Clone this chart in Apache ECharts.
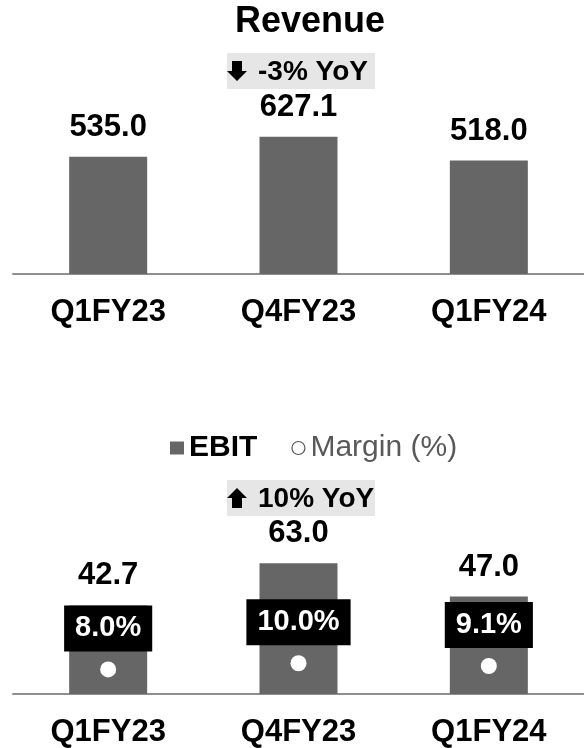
<!DOCTYPE html>
<html>
<head>
<meta charset="utf-8">
<title>Revenue / EBIT</title>
<script src="https://cdn.jsdelivr.net/npm/echarts@6/dist/echarts.min.js"></script>
<style>
  html,body{margin:0;padding:0;background:#fff;}
  #chart{width:584px;height:748px;}
</style>
</head>
<body>
<div id="chart"></div>
<script>
// data
const quarters = ['Q1FY23', 'Q4FY23', 'Q1FY24']
const revenue = [535.0, 627.1, 518.0]
const ebit = [42.7, 63.0, 47.0]
const margin = [8.0, 10.0, 9.1]
const revenueYoY = '-3% YoY'
const ebitYoY = '10% YoY'

const font = 'Liberation Sans, Arial, sans-serif'
const barColor = '#666666'
const axisColor = '#8f8f8f'

const myChart = echarts.init(document.getElementById('chart'))

// x axis shared style
function xAxisFor(gridIndex){
  return {
    type: 'category',
    gridIndex: gridIndex,
    data: quarters,
    axisTick: {show: false},
    axisLine: {lineStyle: {color: axisColor, width: 2}},
    axisLabel: {
      margin: 23,
      color: '#000',
      fontFamily: font,
      fontWeight: 'bold',
      fontSize: 31
    }
  }
}

const valueLabel = {
  show: true,
  position: 'top',
  distance: 14,
  color: '#000',
  fontFamily: font,
  fontWeight: 'bold',
  fontSize: 31,
  formatter: p => p.value.toFixed(1)
}

// little arrow + grey box above middle bar
function yoyBadge(y, up, text){
  const arrow = up
    ? [[237, y + 8], [247, y + 18], [242, y + 18], [242, y + 28], [232, y + 28], [232, y + 18], [227, y + 18]]
    : [[232, y + 8], [242, y + 8], [242, y + 18], [247, y + 18], [237, y + 28], [227, y + 18], [232, y + 18]]
  return [
    {type: 'rect', shape: {x: 227, y: y, width: 148, height: 36}, style: {fill: '#e6e6e6'}},
    {type: 'polygon', shape: {points: arrow}, style: {fill: '#000'}},
    {type: 'text', x: 258, y: y + 19, style: {
      text: text, fill: '#000', font: 'bold 28px ' + font, verticalAlign: 'middle'
    }}
  ]
}

const option = {
  animation: false,
  title: {
    text: 'Revenue',
    left: 235,
    top: 4,
    padding: 0,
    textStyle: {fontFamily: font, fontWeight: 'bold', fontSize: 36, color: '#000'}
  },
  legend: {
    left: 170,
    top: 433,
    padding: 0,
    itemWidth: 14,
    itemHeight: 13,
    itemGap: 34,
    textStyle: {fontFamily: font, fontSize: 30},
    data: [
      {name: 'EBIT', icon: 'rect', textStyle: {fontWeight: 'bold', color: '#000'}},
      {name: 'Margin (%)', icon: 'circle',
        itemStyle: {color: '#fff', borderColor: '#595959', borderWidth: 1.2, opacity: 1},
        textStyle: {fontWeight: 'normal', color: '#595959'}}
    ]
  },
  grid: [
    {left: 13, width: 588, top: 55, height: 219},
    {left: 13, width: 588, top: 528, height: 168}
  ],
  xAxis: [xAxisFor(0), xAxisFor(1)],
  yAxis: [
    {type: 'value', gridIndex: 0, min: 0, max: 1000, show: false, splitLine: {show: false}},
    {type: 'value', gridIndex: 1, min: 0, max: 80, show: false, splitLine: {show: false}},
    {type: 'value', gridIndex: 1, min: 0, max: 54, show: false, splitLine: {show: false}}
  ],
  series: [
    {
      name: 'Revenue',
      type: 'bar',
      xAxisIndex: 0,
      yAxisIndex: 0,
      barWidth: 78,
      data: revenue,
      itemStyle: {color: barColor},
      label: valueLabel
    },
    {
      name: 'EBIT',
      type: 'bar',
      xAxisIndex: 1,
      yAxisIndex: 1,
      barWidth: 78,
      data: ebit,
      itemStyle: {color: barColor},
      label: valueLabel
    },
    {
      name: 'Margin (%)',
      type: 'scatter',
      xAxisIndex: 1,
      yAxisIndex: 2,
      symbol: 'circle',
      symbolSize: 16,
      data: margin,
      itemStyle: {color: '#fff', opacity: 1},
      z: 5,
      label: {
        show: true,
        position: 'top',
        distance: 10,
        opacity: 1,
        backgroundColor: '#000',
        padding: [8, 11],
        lineHeight: 30,
        color: '#fff',
        fontFamily: font,
        fontWeight: 'bold',
        fontSize: 29,
        formatter: p => p.value.toFixed(1) + '%'
      }
    }
  ],
  graphic: [].concat(
    yoyBadge(53, false, revenueYoY),
    yoyBadge(480, true, ebitYoY)
  )
}

option && myChart.setOption(option)
</script>
</body>
</html>
